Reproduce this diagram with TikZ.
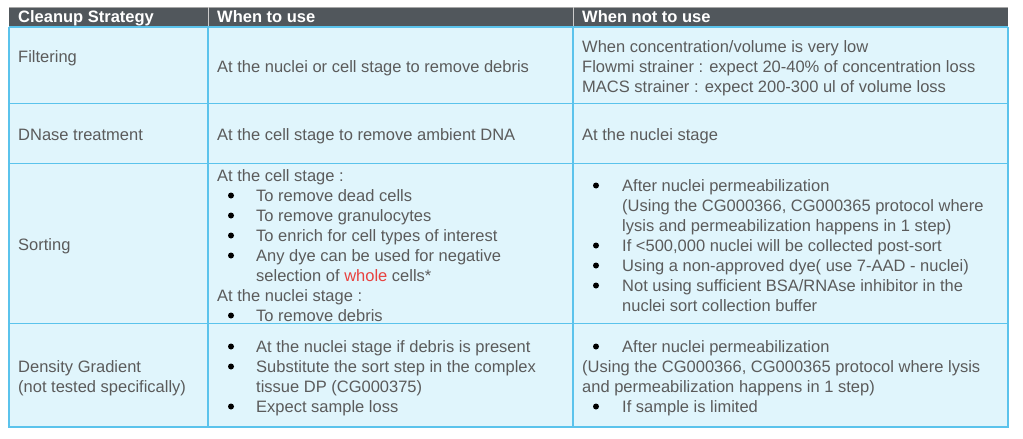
\documentclass[tikz,border=0pt]{standalone}
\usepackage{fontspec}
\setmainfont{Liberation Sans}
\definecolor{headgray}{HTML}{51575C}
\definecolor{cellblue}{HTML}{E0F5FC}
\definecolor{gridblue}{HTML}{5BC3EC}
\definecolor{txtgray}{HTML}{5B5B5B}
\definecolor{markred}{HTML}{E8413F}
\tikzset{
  cell/.style={anchor=base west, inner sep=0pt, text=txtgray, font=\fontsize{16.5}{20}\selectfont},
  head/.style={anchor=base west, inner sep=0pt, text=white, font=\fontsize{16.5}{20}\selectfont\bfseries},
  grid/.style={draw=gridblue, line width=1.2pt}
}
\begin{document}
\begin{tikzpicture}[x=1pt,y=-1pt]
  \useasboundingbox (0,0) rectangle (1023,439);
  \fill[cellblue] (9,27) rectangle (1008,427);
  \fill[headgray] (9,7) rectangle (1008,27);
  \draw[gray!70, line width=0.8pt] (9,7) -- (1008,7);
  \draw[gray!40, line width=0.8pt] (208,7) -- (208,27) (573,7) -- (573,27);

  % grid
  \foreach \y in {27,103.5,163.5,323.5}
    \draw[grid] (9,\y) -- (1008,\y);
  \foreach \x in {208,573}
    \draw[grid] (\x,27) -- (\x,427);
  \draw[gridblue, line width=2pt] (9,27) -- (9,427) -- (1008,427) -- (1008,27);

  % header
  \node[head] (hstrat) at (18,23) {Cleanup Strategy};
  \node[head] (huse) at (217,23) {When to use};
  \node[head] (hnot) at (582,23) {When not to use};

  % filtering
  \node[cell] (filt) at (18,62) {Filtering};
  \node[cell] (filtuse) at (217,72) {At the nuclei or cell stage to remove debris};
  \node[cell] (filtnot1) at (582,52) {When concentration/volume is very low};
  \node[cell] (filtnot2) at (582,72) {Flowmi strainer : expect 20-40\% of concentration loss};
  \node[cell] (filtnot3) at (582,92) {MACS strainer : expect 200-300 ul of volume loss};

  % dnase
  \node[cell] (dnase) at (18,140) {DNase treatment};
  \node[cell] (dnaseuse) at (217,140) {At the cell stage to remove ambient DNA};
  \node[cell] (dnasenot) at (582,140) {At the nuclei stage};

  % sorting
  \node[cell] (sort) at (18,250) {Sorting};
  \node[cell] (sortuse1) at (217,181) {At the cell stage :};
  \node[cell] (sortuse2) at (256,201) {To remove dead cells};
  \node[cell] (sortuse3) at (256,221) {To remove granulocytes};
  \node[cell] (sortuse4) at (256,241) {To enrich for cell types of interest};
  \node[cell] (sortuse5) at (256,261) {Any dye can be used for negative};
  \node[cell] (sortuse6) at (256,281) {selection of \textcolor{markred}{whole} cells*};
  \node[cell] (sortuse7) at (217,301) {At the nuclei stage :};
  \node[cell] (sortuse8) at (256,321) {To remove debris};
  \foreach \y in {201,221,241,261,321}
    \fill (231,\y-5.5) circle (3);

  \node[cell] (sortnot1) at (622,191) {After nuclei permeabilization};
  \node[cell] (sortnot2) at (622,211) {(Using the CG000366, CG000365 protocol where};
  \node[cell] (sortnot3) at (622,231) {lysis and permeabilization happens in 1 step)};
  \node[cell] (sortnot4) at (622,251) {If <500,000 nuclei will be collected post-sort};
  \node[cell] (sortnot5) at (622,271) {Using a non-approved dye( use 7-AAD - nuclei)};
  \node[cell] (sortnot6) at (622,291) {Not using sufficient BSA/RNAse inhibitor in the};
  \node[cell] (sortnot7) at (622,311) {nuclei sort collection buffer};
  \foreach \y in {191,251,271,291}
    \fill (596,\y-5.5) circle (3);

  % density gradient
  \node[cell] (dens1) at (18,372) {Density Gradient};
  \node[cell] (dens2) at (18,392) {(not tested specifically)};
  \node[cell] (densuse1) at (256,352) {At the nuclei stage if debris is present};
  \node[cell] (densuse2) at (256,372) {Substitute the sort step in the complex};
  \node[cell] (densuse3) at (256,392) {tissue DP (CG000375)};
  \node[cell] (densuse4) at (256,412) {Expect sample loss};
  \foreach \y in {352,372,412}
    \fill (231,\y-5.5) circle (3);

  \node[cell] (densnot1) at (622,352) {After nuclei permeabilization};
  \node[cell] (densnot2) at (582,372) {(Using the CG000366, CG000365 protocol where lysis};
  \node[cell] (densnot3) at (582,392) {and permeabilization happens in 1 step)};
  \node[cell] (densnot4) at (622,412) {If sample is limited};
  \foreach \y in {352,412}
    \fill (596,\y-5.5) circle (3);
\end{tikzpicture}
\end{document}
